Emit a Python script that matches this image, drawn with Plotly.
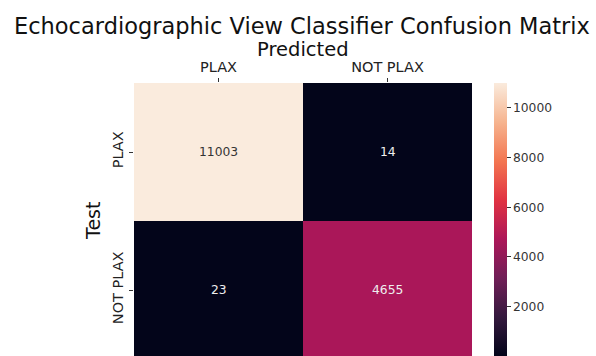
import plotly.graph_objects as go

# Confusion matrix counts: rows = true (Test), columns = Predicted
classes = ["PLAX", "NOT PLAX"]
counts = [
    [11003, 14],
    [23, 4655],
]
cbar_ticks = [2000, 4000, 6000, 8000, 10000]

# seaborn "rocket" colormap
rocket = [
    [0.0, "#03051A"],
    [1 / 7, "#35193E"],
    [2 / 7, "#701F57"],
    [3 / 7, "#AD1759"],
    [4 / 7, "#E13342"],
    [5 / 7, "#F37651"],
    [6 / 7, "#F6B48F"],
    [1.0, "#FAEBDD"],
]

flat = [v for row in counts for v in row]
zmin, zmax = min(flat), max(flat)

W, H = 596, 356
L, R, T, B = 134, 124, 83, 0
plot_h = H - T - B
row_px = 138  # pixel height of one matrix row


def ypaper(px):
    return 1 + (T - px) / plot_h


def xpaper(px):
    return (px - L) / (W - L - R)


fig = go.Figure(
    go.Heatmap(
        z=counts,
        x=classes,
        y=classes,
        colorscale=rocket,
        zmin=zmin,
        zmax=zmax,
        showscale=True,
        hoverinfo="skip",
        colorbar=dict(
            x=xpaper(494),
            xanchor="left",
            xpad=0,
            y=0.5,
            yanchor="middle",
            ypad=0,
            len=1,
            lenmode="fraction",
            thickness=13,
            outlinewidth=0,
            ticks="outside",
            ticklen=4,
            tickwidth=1,
            tickcolor="#333333",
            tickvals=cbar_ticks,
            ticktext=[str(v) for v in cbar_ticks],
            tickfont=dict(family="DejaVu Sans", size=12.3, color="#333333"),
        ),
    )
)

# cell annotations, dark text on light cells and light text on dark cells
annotations = []
for i, row in enumerate(counts):
    for j, v in enumerate(row):
        frac = (v - zmin) / (zmax - zmin)
        color = "#333333" if frac > 0.6 else "#eeeeee"
        annotations.append(
            dict(
                x=classes[j],
                y=classes[i],
                text=str(v),
                showarrow=False,
                font=dict(family="DejaVu Sans", size=12.3, color=color),
            )
        )

annotations += [
    dict(
        text="Echocardiographic View Classifier Confusion Matrix",
        xref="paper",
        yref="paper",
        x=xpaper(302),
        y=ypaper(26),
        xanchor="center",
        yanchor="middle",
        showarrow=False,
        font=dict(family="DejaVu Sans", size=22.5, color="#111111"),
    ),
    dict(
        text="Predicted",
        xref="paper",
        yref="paper",
        x=0.5,
        y=ypaper(50),
        xanchor="center",
        yanchor="middle",
        showarrow=False,
        font=dict(family="DejaVu Sans", size=19.5, color="#111111"),
    ),
    dict(
        text="Test",
        xref="paper",
        yref="paper",
        x=xpaper(93),
        y=ypaper(221),
        xanchor="center",
        yanchor="middle",
        textangle=-90,
        showarrow=False,
        font=dict(family="DejaVu Sans", size=19, color="#111111"),
    ),
]

n = len(classes)
fig.update_layout(
    width=W,
    height=H,
    margin=dict(l=L, r=R, t=T, b=B, pad=0),
    paper_bgcolor="white",
    plot_bgcolor="white",
    annotations=annotations,
    xaxis=dict(
        side="top",
        range=[-0.5, n - 0.5],
        showgrid=False,
        zeroline=False,
        showline=False,
        ticks="outside",
        ticklen=4,
        tickcolor="#333333",
        tickfont=dict(family="DejaVu Sans", size=14.5, color="#222222"),
    ),
    yaxis=dict(
        range=[-0.5 + plot_h / row_px, -0.5],
        showgrid=False,
        zeroline=False,
        showline=False,
        ticks="outside",
        ticklen=4,
        tickcolor="#333333",
        tickangle=-90,
        tickfont=dict(family="DejaVu Sans", size=14.5, color="#222222"),
    ),
)

fig.write_html("out.html")
